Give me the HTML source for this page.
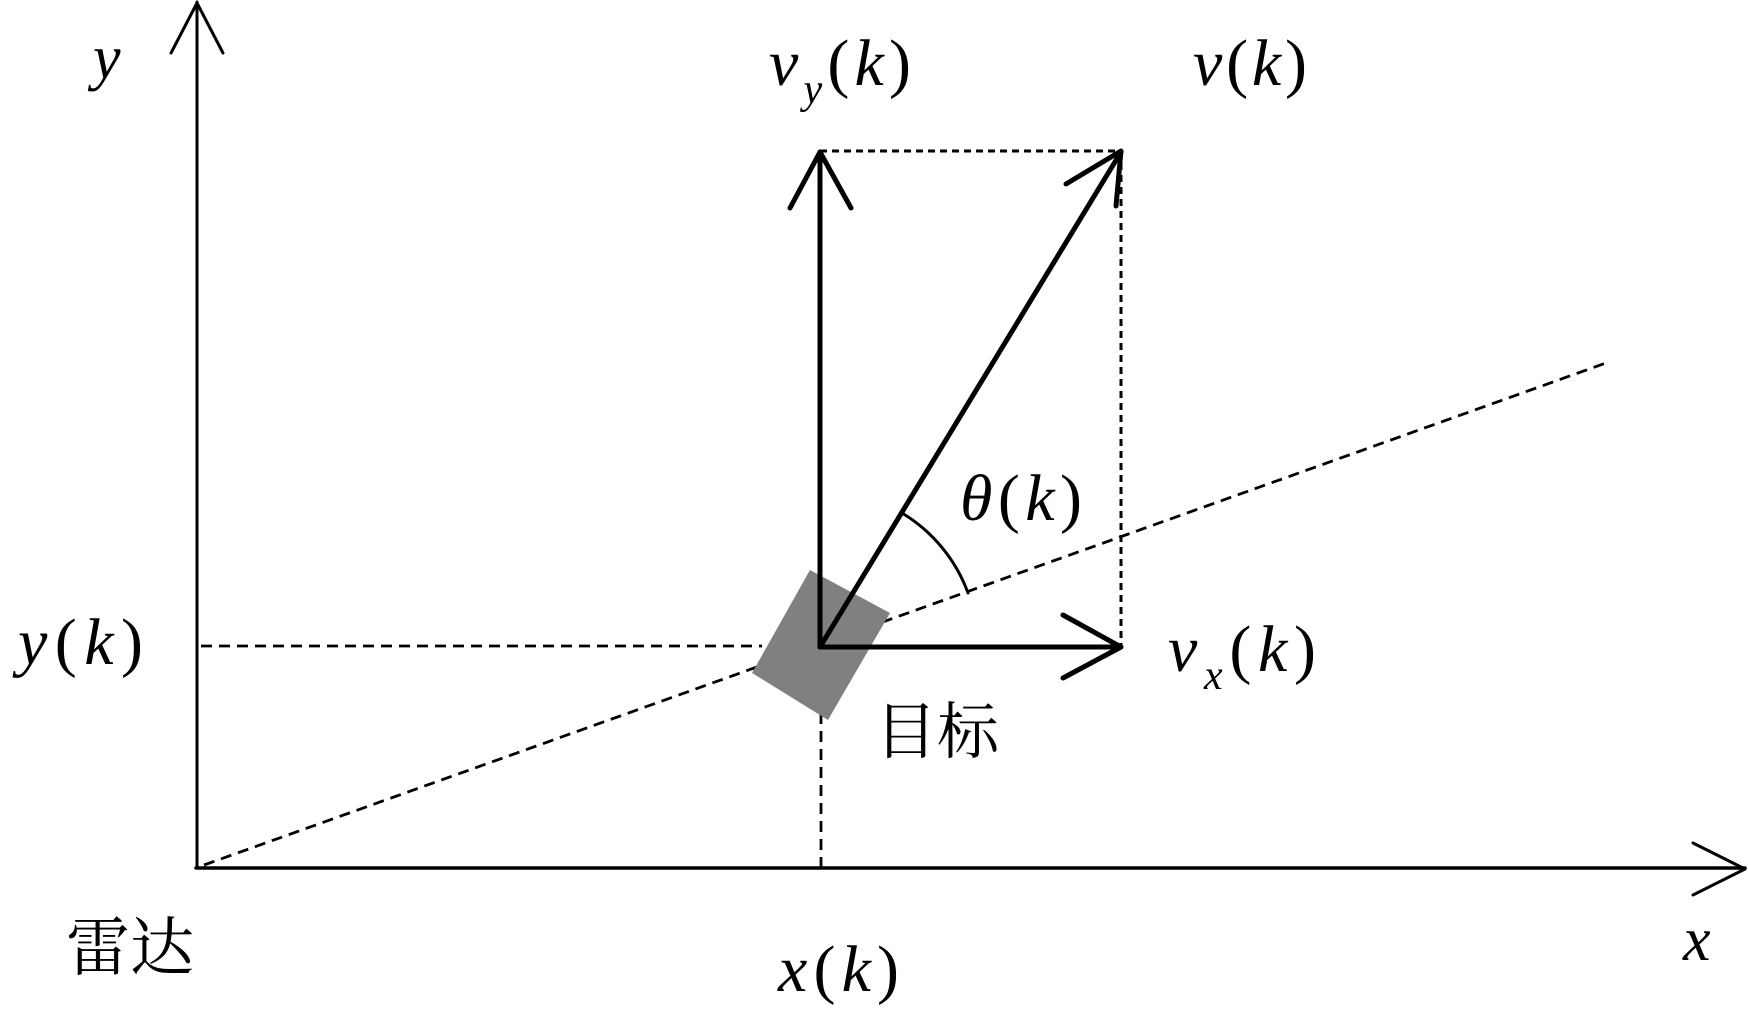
<!DOCTYPE html>
<html><head><meta charset="utf-8"><style>
html,body{margin:0;padding:0;background:#fff;}
svg{display:block;}
text{font-family:"Liberation Serif",serif;fill:#000;}
.i{font-style:italic;}
.cjk{font-family:"Liberation Serif","Noto Serif CJK SC","Noto Sans CJK SC",serif;}
</style></head><body>
<svg width="1748" height="1025" viewBox="0 0 1748 1025" xmlns="http://www.w3.org/2000/svg">
<g fill="none" stroke="#000" stroke-linecap="butt">
  <line x1="204" y1="865" x2="1606" y2="363" stroke-width="2.8" stroke-dasharray="11,7"/>
  <line x1="201" y1="646" x2="762" y2="646" stroke-width="2.8" stroke-dasharray="11,7"/>
  <line x1="821" y1="713" x2="821" y2="868" stroke-width="2.8" stroke-dasharray="11,7"/>
  <line x1="820" y1="151" x2="1122" y2="151" stroke-width="3" stroke-dasharray="7,5"/>
  <line x1="1121" y1="151" x2="1121" y2="645" stroke-width="3" stroke-dasharray="7,5"/>
</g>
<polygon points="810,570 890,613 828,720 752,673" fill="#808080"/>
<g fill="none" stroke="#000" stroke-linecap="round" stroke-linejoin="round">
  <line x1="197" y1="868" x2="197" y2="2" stroke-width="3"/>
  <polyline points="171,53 197,3 223,53" stroke-width="3"/>
  <line x1="196" y1="868" x2="1745" y2="868" stroke-width="3.5"/>
  <polyline points="1693,843 1745,869 1693,895" stroke-width="3"/>
  <line x1="820" y1="647" x2="820" y2="152" stroke-width="5"/>
  <polyline points="790,208 820,152 851,208" stroke-width="5"/>
  <line x1="820" y1="647" x2="1120" y2="647" stroke-width="5"/>
  <polyline points="1063,615 1121,647 1063,678" stroke-width="5"/>
  <line x1="820" y1="647" x2="1121" y2="152" stroke-width="5"/>
  <polyline points="1066,184 1121,151 1116,206" stroke-width="5"/>
  <path d="M902,513 A156,156 0 0 1 968,593" stroke-width="3"/>
</g>
<text x="93" y="78" font-size="62" class="i">y</text>
<text x="769" y="85" font-size="66" textLength="142" lengthAdjust="spacing"><tspan class="i">v</tspan><tspan class="i" font-size="42" dy="18">y</tspan><tspan dy="-18">(</tspan><tspan class="i">k</tspan>)</text>
<text x="1193" y="85" font-size="66" textLength="114" lengthAdjust="spacing"><tspan class="i">v</tspan>(<tspan class="i">k</tspan>)</text>
<text x="960" y="520" font-size="66" textLength="122" lengthAdjust="spacing"><tspan class="i">θ</tspan>(<tspan class="i">k</tspan>)</text>
<text x="1168" y="671" font-size="66" textLength="148" lengthAdjust="spacing"><tspan class="i">v</tspan><tspan class="i" font-size="42" dy="18">x</tspan><tspan dy="-18">(</tspan><tspan class="i">k</tspan>)</text>
<text x="18" y="664" font-size="66" textLength="125" lengthAdjust="spacing"><tspan class="i">y</tspan>(<tspan class="i">k</tspan>)</text>
<text x="778" y="991" font-size="66" textLength="121" lengthAdjust="spacing"><tspan class="i">x</tspan>(<tspan class="i">k</tspan>)</text>
<text x="1683" y="960" font-size="62" class="i">x</text>
<text x="875" y="753" font-size="62" class="cjk">目标</text>
<text x="66" y="970" font-size="64" class="cjk">雷达</text>
</svg>
</body></html>
